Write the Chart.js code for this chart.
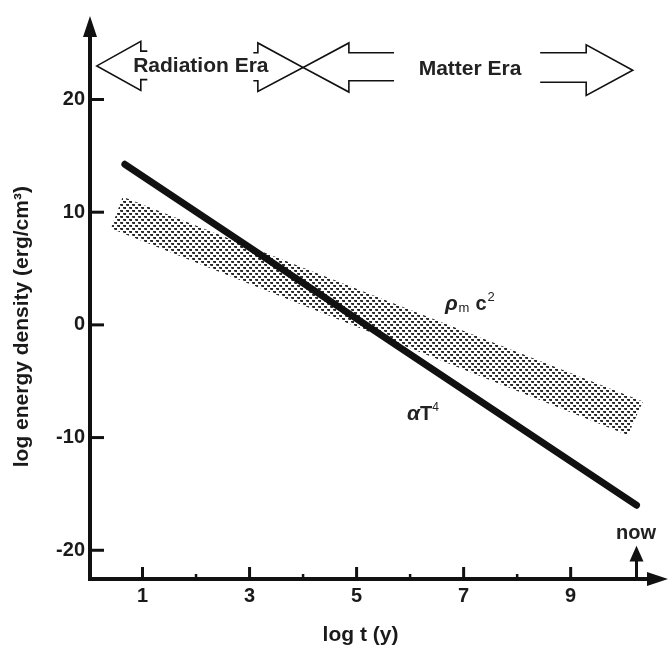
<!DOCTYPE html>
<html><head><meta charset="utf-8">
<script src="https://cdn.jsdelivr.net/npm/chart.js@4.4.1/dist/chart.umd.min.js"></script>
<style>html,body{margin:0;padding:0;background:#fff;overflow:hidden}#wrap{width:670px;height:649px}</style>
</head><body><div id="wrap"><canvas id="c" width="670" height="649"></canvas></div>
<script>
// ---- data ----
const radiationX = [0.67, 10.23];          // log t (y)
const radiationY = [14.25, -16.0];         // log energy density, aT^4
const matterBandX = [0.63, 10.35, 10.07, 0.41, 0.63];   // rho_m c^2 band outline
const matterBandY = [11.36, -6.8, -9.8, 8.55, 11.36];
const xTickLabels = [1, 3, 5, 7, 9];
const xMinorTicks = [2, 4, 6, 8];
const yTickLabels = [-20, -10, 0, 10, 20];

// ---- annotation geometry (data coordinates) ----
const ANN = {
  radiationArrow: [
    [[1.09,24.29],[0.968,24.29],[0.968,25.16],[0.146,22.98],[0.968,20.80],[0.968,21.76],[1.09,21.76]],
    [[3.07,24.15],[3.155,24.15],[3.155,25.02],[4.0,22.84],[3.155,20.72],[3.155,21.67],[3.07,21.67]]
  ],
  matterArrow: [
    [[5.70,24.15],[4.856,24.15],[4.856,25.02],[4.0,22.84],[4.856,20.66],[4.856,21.67],[5.70,21.67]],
    [[8.43,24.15],[9.29,24.15],[9.29,24.85],[10.16,22.6],[9.29,20.37],[9.29,21.53],[8.43,21.53]]
  ],
  radiationText: [2.09, 22.98],
  matterText: [7.12, 22.69],
  rhoLabel: [6.65, 1.33],
  aT4Label: [5.94, -8.43],
  nowText: [10.22, -18.5],
  nowArrow: {x: 10.23, tip: -19.6, base: -20.9}
};

const FONT = '"Liberation Sans", Arial, Helvetica, sans-serif';

function makePattern() {
  const c = document.createElement('canvas'); c.width = 6; c.height = 6;
  const g = c.getContext('2d');
  g.fillStyle = '#2a2a2a';
  g.fillRect(0,0,3,1); g.fillRect(1,1,2,1);
  g.fillRect(3,3,3,1); g.fillRect(4,4,2,1);
  g.fillStyle = '#777';
  g.fillRect(0,1,1,1); g.fillRect(3,4,1,1);
  return g.createPattern(c, 'repeat');
}

const decor = {
  id: 'decor',
  afterDraw(chart) {
    const {ctx, chartArea: ca, scales: {x, y}} = chart;
    const X = v => x.getPixelForValue(v), Y = v => y.getPixelForValue(v);
    ctx.save();
    ctx.strokeStyle = '#111'; ctx.fillStyle = '#111';
    // axes
    ctx.lineWidth = 4; ctx.lineCap = 'butt';
    const ax = ca.left + 1, ay = ca.bottom;
    ctx.beginPath(); ctx.moveTo(ax, ay + 2); ctx.lineTo(ax, ca.top + 18); ctx.stroke();
    ctx.beginPath(); ctx.moveTo(ax - 2, ay); ctx.lineTo(ca.right - 18, ay); ctx.stroke();
    ctx.beginPath(); ctx.moveTo(ax, ca.top); ctx.lineTo(ax - 7, ca.top + 21); ctx.lineTo(ax + 7, ca.top + 21); ctx.closePath(); ctx.fill();
    ctx.beginPath(); ctx.moveTo(ca.right + 1, ay); ctx.lineTo(ca.right - 20, ay - 7); ctx.lineTo(ca.right - 20, ay + 7); ctx.closePath(); ctx.fill();
    // ticks (inward)
    ctx.lineWidth = 3;
    yTickLabels.forEach(v => { ctx.beginPath(); ctx.moveTo(ax, Y(v)); ctx.lineTo(ax + 14, Y(v)); ctx.stroke(); });
    xTickLabels.forEach(v => { ctx.beginPath(); ctx.moveTo(X(v), ay); ctx.lineTo(X(v), ay - 12); ctx.stroke(); });
    ctx.lineWidth = 2.5;
    xMinorTicks.forEach(v => { ctx.beginPath(); ctx.moveTo(X(v), ay); ctx.lineTo(X(v), ay - 5); ctx.stroke(); });
    // era arrows
    ctx.lineWidth = 1.6; ctx.lineJoin = 'miter';
    [...ANN.radiationArrow, ...ANN.matterArrow].forEach(poly => {
      ctx.beginPath();
      poly.forEach((p, i) => { const px = X(p[0]), py = Y(p[1]); i ? ctx.lineTo(px, py) : ctx.moveTo(px, py); });
      ctx.stroke();
    });
    ctx.textAlign = 'center'; ctx.textBaseline = 'middle';
    ctx.font = 'bold 21px ' + FONT;
    ctx.fillStyle = '#222';
    ctx.fillText('Radiation Era', X(ANN.radiationText[0]), Y(ANN.radiationText[1]));
    ctx.fillText('Matter Era', X(ANN.matterText[0]), Y(ANN.matterText[1]));
    // now arrow
    const nx = X(ANN.nowArrow.x);
    ctx.fillStyle = '#111';
    ctx.lineWidth = 3;
    ctx.beginPath(); ctx.moveTo(nx, ay); ctx.lineTo(nx, Y(ANN.nowArrow.base)); ctx.stroke();
    ctx.beginPath(); ctx.moveTo(nx, Y(ANN.nowArrow.tip)); ctx.lineTo(nx - 7, Y(ANN.nowArrow.base) + 1); ctx.lineTo(nx + 7, Y(ANN.nowArrow.base) + 1); ctx.closePath(); ctx.fill();
    ctx.fillStyle = '#222';
    ctx.font = 'bold 20px ' + FONT;
    ctx.fillText('now', X(ANN.nowText[0]), Y(ANN.nowText[1]));
    // series labels
    ctx.textAlign = 'left'; ctx.textBaseline = 'alphabetic';
    let lx = X(ANN.rhoLabel[0]), ly = Y(ANN.rhoLabel[1]);
    ctx.font = 'italic bold 21px ' + FONT; ctx.fillText('ρ', lx, ly); lx += ctx.measureText('ρ').width + 1;
    ctx.font = '13px ' + FONT; ctx.fillText('m', lx, ly + 2); lx += ctx.measureText('m').width + 6;
    ctx.font = 'bold 20px ' + FONT; ctx.fillText('c', lx, ly); lx += ctx.measureText('c').width + 1;
    ctx.font = '13px ' + FONT; ctx.fillText('2', lx, ly - 9);
    lx = X(ANN.aT4Label[0]); ly = Y(ANN.aT4Label[1]);
    ctx.font = 'italic bold 21px ' + FONT; ctx.fillText('α', lx, ly); lx += ctx.measureText('α').width;
    ctx.font = 'bold 20px ' + FONT; ctx.fillText('T', lx, ly); lx += ctx.measureText('T').width;
    ctx.font = '12px ' + FONT; ctx.fillText('4', lx, ly - 9);
    ctx.restore();
  }
};

new Chart(document.getElementById('c'), {
  type: 'scatter',
  data: {
    datasets: [
      {
        label: 'aT4',
        data: radiationX.map((v, i) => ({x: v, y: radiationY[i]})),
        showLine: true, borderColor: '#111', borderWidth: 7, borderCapStyle: 'round',
        pointRadius: 0, fill: false
      },
      {
        label: 'rho_m c2',
        data: matterBandX.map((v, i) => ({x: v, y: matterBandY[i]})),
        showLine: true, borderWidth: 0, borderColor: 'rgba(0,0,0,0)',
        backgroundColor: makePattern(), fill: 'shape', pointRadius: 0, tension: 0
      }
    ]
  },
  options: {
    responsive: false, animation: false, devicePixelRatio: 1,
    layout: {padding: {top: 6, right: 3, left: 0, bottom: 0}},
    plugins: {legend: {display: false}, tooltip: {enabled: false}},
    scales: {
      x: {
        type: 'linear', min: 0, max: 10.8,
        afterBuildTicks: s => { s.ticks = xTickLabels.map(v => ({value: v})); },
        afterFit: s => { s.height = 70; },
        grid: {display: false, drawTicks: false}, border: {display: false},
        ticks: {color: '#1a1a1a', padding: 5, font: {family: FONT, size: 20, weight: 'bold'}},
        title: {display: true, text: 'log t (y)      ', color: '#1a1a1a', padding: {top: 0, bottom: 1},
                font: {family: FONT, size: 21, weight: 'bold'}}
      },
      y: {
        type: 'linear', min: -22.55, max: 27.41,
        afterBuildTicks: s => { s.ticks = yTickLabels.map(v => ({value: v})); },
        afterFit: s => { s.width = 89; },
        grid: {display: false, drawTicks: false}, border: {display: false},
        ticks: {color: '#1a1a1a', padding: 4, font: {family: FONT, size: 20, weight: 'bold'}},
        title: {display: true, text: 'log energy density (erg/cm³)          ', color: '#1a1a1a',
                padding: {top: 10, bottom: 0}, font: {family: FONT, size: 21, weight: 'bold'}}
      }
    }
  },
  plugins: [decor]
});
</script></body></html>
